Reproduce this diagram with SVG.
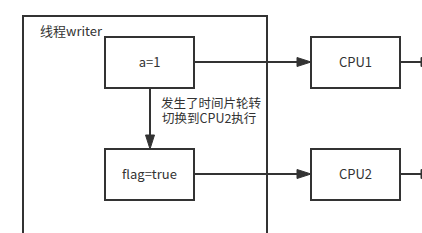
<svg xmlns="http://www.w3.org/2000/svg" width="422" height="233" viewBox="0 0 422 233">
<style>
.box{fill:#fff;stroke:#333;stroke-width:2}
.ln{stroke:#333;stroke-width:2;fill:none}
.ah{fill:#333;stroke:#333;stroke-width:1}
text{font-family:"Noto Sans CJK SC","Noto Sans",sans-serif;font-size:13px;fill:#333}
.c{text-anchor:middle}
.lbl{font-size:12.5px}
</style>
<rect width="422" height="233" fill="#fff"/>
<g id="frame">
<rect x="23" y="16" width="244" height="260" fill="none" stroke="#333" stroke-width="2"/>
<text x="40" y="36">线程writer</text>
</g>
<g id="connectors">
<line class="ln" x1="194" y1="62" x2="298" y2="62"/>
<polygon class="ah" points="297,57.5 311,62 297,66.5"/>
<line class="ln" x1="194" y1="174" x2="298" y2="174"/>
<polygon class="ah" points="297,169.5 311,174 297,178.5"/>
<line class="ln" x1="150" y1="88" x2="150" y2="137"/>
<polygon class="ah" points="145.5,135 154.5,135 150,149"/>
<line class="ln" x1="400" y1="62" x2="430" y2="62"/>
<polygon class="ah" points="421,57.5 435,62 421,66.5"/>
<line class="ln" x1="400" y1="174" x2="430" y2="174"/>
<polygon class="ah" points="421,169.5 435,174 421,178.5"/>
<text class="lbl"><tspan x="161" y="108">发生了时间片轮转</tspan><tspan x="162" y="123">切换到CPU2执行</tspan></text>
</g>
<g id="a1">
<rect class="box" x="105" y="37" width="89" height="51"/>
<text class="c" x="149.5" y="67">a=1</text>
</g>
<g id="flag">
<rect class="box" x="105" y="149" width="89" height="51"/>
<text class="c" x="149.5" y="179">flag=true</text>
</g>
<g id="cpu1">
<rect class="box" x="311" y="37" width="89" height="51"/>
<text class="c" x="355.5" y="67">CPU1</text>
</g>
<g id="cpu2">
<rect class="box" x="311" y="149" width="89" height="51"/>
<text class="c" x="355.5" y="179">CPU2</text>
</g>
</svg>
